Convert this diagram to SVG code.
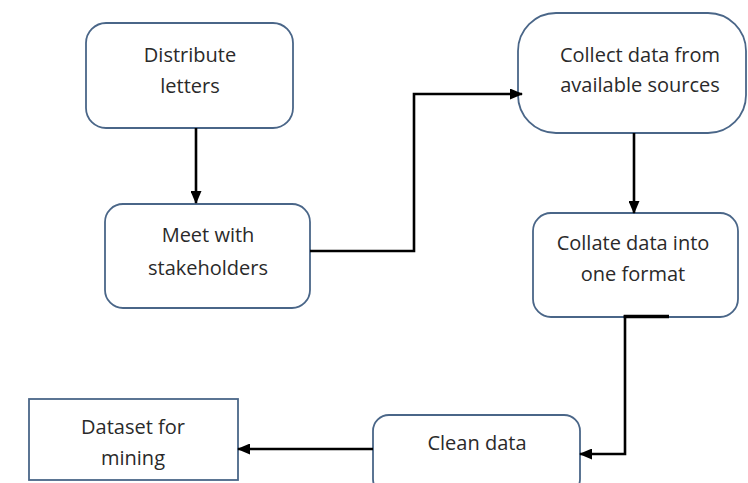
<svg xmlns="http://www.w3.org/2000/svg" width="748" height="483" viewBox="0 0 748 483">
<style>
.box{fill:#fff;stroke:#4a6688;stroke-width:1.8}
.t{font-family:"Open Sans","Liberation Sans",sans-serif;font-size:20px;fill:#2a2a2a;text-anchor:middle}
.c{fill:none;stroke:#000;stroke-width:2.6}
</style>
<defs>
<marker id="ah" markerWidth="13" markerHeight="11" refX="12" refY="5.5" orient="auto" markerUnits="userSpaceOnUse">
<path d="M0,0 L13,5.5 L0,11 Z" fill="#000"/>
</marker>
</defs>
<rect width="748" height="483" fill="#fff"/>
<g id="n1">
<rect class="box" x="86" y="23" width="207" height="105" rx="20"/>
<text class="t" x="190" y="62">Distribute</text>
<text class="t" x="190" y="93">letters</text>
</g>
<g id="n2">
<rect class="box" x="105" y="204" width="205" height="104" rx="18"/>
<text class="t" x="208" y="242">Meet with</text>
<text class="t" x="208" y="275">stakeholders</text>
</g>
<g id="n3">
<rect class="box" x="518" y="13" width="228" height="120" rx="38"/>
<text class="t" x="640" y="62">Collect data from</text>
<text class="t" x="640" y="92">available sources</text>
</g>
<g id="n4">
<rect class="box" x="533" y="213" width="205" height="104" rx="18"/>
<text class="t" x="633" y="250">Collate data into</text>
<text class="t" x="633" y="281">one format</text>
</g>
<g id="n5">
<rect class="box" x="373" y="415" width="207" height="80" rx="16"/>
<text class="t" x="477" y="450">Clean data</text>
</g>
<g id="n6">
<rect class="box" x="29" y="399" width="209" height="81"/>
<text class="t" x="133" y="434">Dataset for</text>
<text class="t" x="133" y="465">mining</text>
</g>
<g id="connectors">
<path class="c" d="M196,128 V203" marker-end="url(#ah)"/>
<path class="c" d="M310,251 H414 V94 H522" marker-end="url(#ah)"/>
<path class="c" d="M634,133 V213" marker-end="url(#ah)"/>
<path class="c" d="M669,316.5 H625 V454 H580" marker-end="url(#ah)"/>
<path class="c" d="M373,449 H238" marker-end="url(#ah)"/>
<path d="M669,316.5 H623.7" stroke="#000" stroke-width="3.5" fill="none"/>
</g>
</svg>
